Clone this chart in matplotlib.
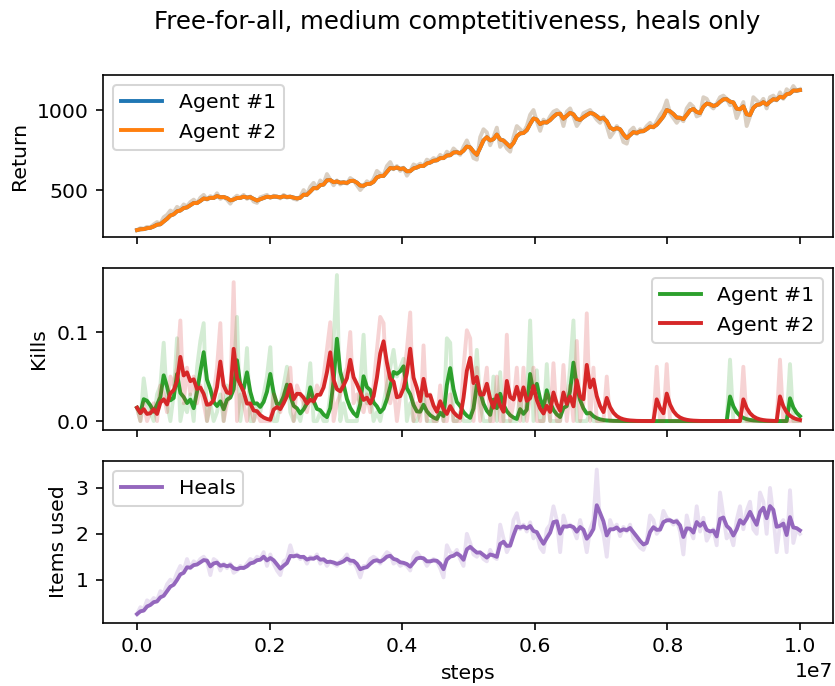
import matplotlib
matplotlib.use("Agg")
import matplotlib.pyplot as plt
import numpy as np
import pandas as pd

# logged steps (200 evaluations over 1e7 steps)
steps = np.linspace(0, 1e7, 200)

# episode return (both agents logged identical values)
ret = [250, 262, 258, 270, 268, 285, 300, 290, 330, 345,
       372, 360, 395, 380, 410, 398, 425, 440, 418, 452,
       470, 440, 462, 450, 480, 445, 458, 440, 415, 448,
       465, 452, 470, 445, 460, 428, 420, 455, 462, 470,
       450, 465, 458, 448, 470, 452, 460, 445, 440, 458,
       500, 470, 520, 545, 510, 560, 540, 600, 565, 530,
       560, 535, 550, 540, 575, 560, 530, 500, 525, 555,
       540, 570, 620, 600, 590, 650, 675, 630, 650, 620,
       640, 590, 620, 660, 650, 665, 650, 690, 680, 700,
       690, 720, 700, 740, 720, 760, 740, 720, 770, 810,
       760, 700, 690, 830, 880, 860, 780, 830, 890, 770,
       800, 760, 740, 830, 900, 880, 860, 900, 970, 1000,
       930, 870, 940, 920, 960, 990, 1000, 980, 900, 990,
       1010, 960, 900, 930, 980, 990, 1000, 970, 940, 920,
       960, 900, 830, 860, 900, 870, 800, 790, 870, 890,
       850, 880, 870, 900, 920, 890, 930, 970, 1000, 1060,
       980, 950, 920, 950, 930, 1010, 1040, 1020, 960, 970,
       1080, 1070, 1030, 1010, 1040, 1080, 1090, 1070, 1030, 1040,
       950, 1000, 1050, 900, 960, 1080, 1060, 1040, 1070, 1010,
       1080, 1090, 1060, 1110, 1070, 1130, 1110, 1150, 1120, 1130]

kills_1 = [0.015, 0.0, 0.048, 0.02, 0.01, 0.0, 0.03, 0.04, 0.088, 0.02,
           0.0, 0.03, 0.093, 0.0, 0.02, 0.01, 0.03, 0.0, 0.06, 0.09,
           0.11, 0.0, 0.02, 0.0, 0.01, 0.03, 0.0, 0.04, 0.03, 0.05,
           0.117, 0.0, 0.03, 0.082, 0.0, 0.0, 0.02, 0.01, 0.03, 0.05,
           0.083, 0.0, 0.0, 0.02, 0.04, 0.061, 0.01, 0.0, 0.01, 0.0,
           0.02, 0.03, 0.065, 0.0, 0.0, 0.01, 0.0, 0.0, 0.03, 0.09,
           0.164, 0.0, 0.02, 0.0, 0.0, 0.0, 0.0, 0.04, 0.097, 0.02,
           0.03, 0.0, 0.01, 0.0, 0.02, 0.04, 0.06, 0.08, 0.05, 0.06,
           0.07, 0.0, 0.02, 0.0, 0.0, 0.01, 0.03, 0.0, 0.0, 0.0,
           0.0, 0.02, 0.0, 0.093, 0.088, 0.0, 0.0, 0.01, 0.0, 0.0,
           0.0, 0.03, 0.08, 0.02, 0.0, 0.0, 0.0, 0.05, 0.0, 0.055,
           0.0, 0.0, 0.0, 0.0, 0.0, 0.03, 0.0, 0.02, 0.113, 0.0,
           0.057, 0.0, 0.0, 0.064, 0.0, 0.0, 0.0, 0.0, 0.03, 0.02,
           0.06, 0.113, 0.0, 0.0, 0.0, 0.0, 0.01, 0.0, 0.0, 0.0,
           0.0, 0.0, 0.0, 0.0, 0.0, 0.0, 0.0, 0.0, 0.0, 0.0,
           0.0, 0.0, 0.0, 0.0, 0.0, 0.0, 0.0, 0.0, 0.0, 0.0,
           0.0, 0.0, 0.0, 0.0, 0.0, 0.0, 0.0, 0.0, 0.0, 0.0,
           0.0, 0.0, 0.0, 0.0, 0.0, 0.0, 0.0, 0.0, 0.069, 0.0,
           0.0, 0.0, 0.0, 0.0, 0.0, 0.0, 0.0, 0.0, 0.0, 0.0,
           0.0, 0.0, 0.0, 0.0, 0.0, 0.0, 0.064, 0.0, 0.0, 0.0]

kills_2 = [0.015, 0.0, 0.02, 0.0, 0.01, 0.02, 0.0, 0.04, 0.03, 0.01,
           0.05, 0.04, 0.06, 0.113, 0.02, 0.06, 0.03, 0.05, 0.02, 0.04,
           0.02, 0.0, 0.02, 0.03, 0.06, 0.11, 0.0, 0.02, 0.03, 0.156,
           0.0, 0.03, 0.02, 0.0, 0.02, 0.0, 0.01, 0.0, 0.0, 0.0,
           0.0, 0.03, 0.02, 0.01, 0.03, 0.04, 0.06, 0.0, 0.04, 0.03,
           0.02, 0.01, 0.03, 0.02, 0.04, 0.03, 0.05, 0.08, 0.111, 0.0,
           0.02, 0.03, 0.05, 0.06, 0.1, 0.02, 0.03, 0.02, 0.01, 0.03,
           0.01, 0.04, 0.08, 0.117, 0.11, 0.03, 0.02, 0.04, 0.0, 0.03,
           0.05, 0.08, 0.122, 0.0, 0.02, 0.0, 0.085, 0.0, 0.03, 0.0,
           0.0, 0.04, 0.0, 0.0, 0.03, 0.0, 0.0, 0.0, 0.06, 0.102,
           0.093, 0.0, 0.06, 0.0, 0.03, 0.06, 0.0, 0.0, 0.05, 0.0,
           0.0, 0.097, 0.0, 0.02, 0.06, 0.0, 0.06, 0.0, 0.03, 0.06,
           0.0, 0.0, 0.0, 0.03, 0.0, 0.065, 0.0, 0.0, 0.063, 0.0,
           0.04, 0.0, 0.09, 0.0, 0.02, 0.121, 0.0, 0.06, 0.0, 0.0,
           0.0, 0.05, 0.0, 0.0, 0.0, 0.0, 0.0, 0.0, 0.0, 0.0,
           0.0, 0.0, 0.0, 0.0, 0.0, 0.0, 0.061, 0.0, 0.0, 0.064,
           0.0, 0.0, 0.0, 0.0, 0.0, 0.0, 0.0, 0.0, 0.0, 0.0,
           0.0, 0.0, 0.0, 0.0, 0.0, 0.0, 0.0, 0.0, 0.0, 0.0,
           0.0, 0.0, 0.061, 0.0, 0.0, 0.0, 0.0, 0.0, 0.0, 0.0,
           0.0, 0.0, 0.0, 0.069, 0.0, 0.0, 0.0, 0.0, 0.0, 0.0]

heals = [0.25, 0.4, 0.35, 0.55, 0.5, 0.6, 0.55, 0.75, 0.7, 0.9,
         1.0, 0.95, 1.15, 1.3, 1.2, 1.45, 1.25, 1.4, 1.35, 1.45,
         1.5, 1.4, 1.1, 1.45, 1.4, 1.2, 1.35, 1.25, 1.35, 1.15,
         1.2, 1.3, 1.25, 1.35, 1.45, 1.4, 1.5, 1.45, 1.6, 1.3,
         1.55, 1.35, 1.2, 1.1, 1.4, 1.45, 1.75, 1.5, 1.55, 1.45,
         1.5, 1.35, 1.5, 1.45, 1.55, 1.35, 1.45, 1.3, 1.4, 1.35,
         1.3, 1.4, 1.45, 1.55, 1.35, 1.4, 1.25, 1.05, 1.3, 1.3,
         1.45, 1.5, 1.45, 1.35, 1.5, 1.6, 1.55, 1.35, 1.4, 1.3,
         1.35, 1.3, 1.2, 1.5, 1.6, 1.5, 1.45, 1.3, 1.4, 1.45,
         1.4, 1.25, 1.05, 1.75, 1.6, 1.55, 1.65, 1.45, 1.3, 2.0,
         1.8, 1.55, 1.5, 1.6, 1.45, 1.4, 1.65, 1.5, 1.45, 2.2,
         1.9, 1.6, 1.75, 2.3, 2.45, 2.1, 2.2, 2.05, 2.25, 1.9,
         2.0, 1.7, 1.6, 2.1, 2.2, 2.6, 2.3, 1.6, 2.4, 2.15,
         2.2, 2.1, 1.9, 2.3, 2.0, 1.6, 2.1, 2.3, 3.4, 2.2,
         2.0, 1.5, 2.3, 2.1, 2.2, 1.95, 2.15, 2.05, 2.2, 1.9,
         1.8, 1.7, 1.65, 1.85, 2.4, 2.3, 2.0, 2.1, 2.5, 2.35,
         2.3, 2.2, 2.3, 2.05, 1.55, 2.4, 2.1, 1.9, 2.6, 2.05,
         2.35, 1.85, 2.0, 2.1, 1.75, 2.9, 2.4, 1.9, 2.0, 1.75,
         2.3, 2.6, 2.1, 2.5, 2.7, 2.1, 2.0, 2.9, 2.7, 2.0,
         3.0, 2.4, 1.6, 2.2, 2.3, 1.6, 2.95, 1.8, 2.1, 2.0]


def smooth(v):
    return pd.Series(v).ewm(alpha=0.4, adjust=False).mean().values


fig, axes = plt.subplots(3, 1, sharex=True, figsize=(835 / 147, 686 / 147), dpi=147)
fig.subplots_adjust(left=0.1234, right=0.9976, top=0.8907, bottom=0.0918, hspace=0.19)
fig.suptitle("Free-for-all, medium comptetitiveness, heals only", x=0.547, y=0.985)

lw = 1.9

ax = axes[0]
for lab, col in [("Agent #1", "C0"), ("Agent #2", "C1")]:
    ax.plot(steps, ret, color=col, alpha=0.2, lw=lw)
    ax.plot(steps, smooth(ret), color=col, label=lab, lw=lw)
ax.set_ylabel("Return")
ax.set_ylim(206, 1219)
ax.set_yticks([500, 1000])
ax.legend(loc="upper left")

ax = axes[1]
for data, lab, col in [(kills_1, "Agent #1", "C2"), (kills_2, "Agent #2", "C3")]:
    ax.plot(steps, data, color=col, alpha=0.2, lw=lw)
    ax.plot(steps, smooth(data), color=col, label=lab, lw=lw)
ax.set_ylabel("Kills")
ax.set_ylim(-0.0101, 0.172)
ax.set_yticks([0.0, 0.1])
ax.legend(loc="upper right")

ax = axes[2]
ax.plot(steps, heals, color="C4", alpha=0.2, lw=lw)
ax.plot(steps, smooth(heals), color="C4", label="Heals", lw=lw)
ax.set_ylabel("Items used")
ax.set_ylim(0.055, 3.59)
ax.set_yticks([1, 2, 3])
ax.legend(loc="upper left")
ax.set_xlabel("steps")
ax.set_xlim(-0.0513e7, 1.0498e7)

fig.savefig("out.png", dpi=147)
